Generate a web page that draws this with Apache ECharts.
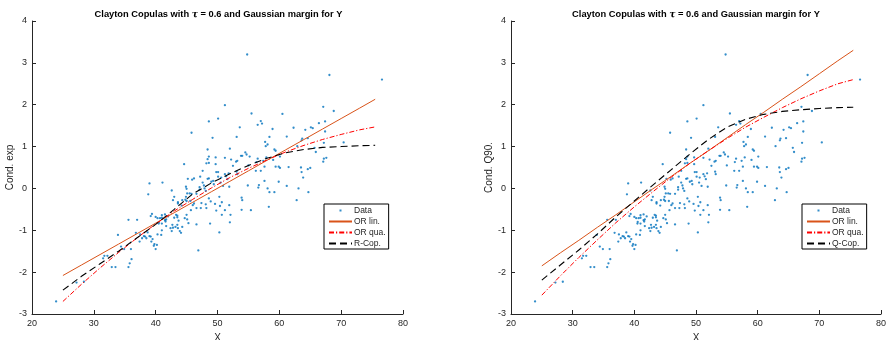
<!DOCTYPE html>
<html><head><meta charset="utf-8">
<script src="https://cdn.jsdelivr.net/npm/echarts@6/dist/echarts.min.js"></script>
<style>html,body{margin:0;padding:0;background:#fff}#c{width:886px;height:340px}</style>
</head><body><div id="c"></div>
<script>
// Scatter data (shared by both panels)
const dataX = [54.8,68.1,76.6,51.2,67.1,68.8,55.5,60.5,50.1,48.6,57.0,57.2,56.5,67.4,66.4,45.8,53.6,58.9,62.3,65.1,65.4,64.2,67.4,49.2,53.1,61.2,58.4,63.7,63.6,64.6,67.2,70.4,48.4,52.0,57.7,58.1,57.8,62.9,54.5,54.7,59.2,59.4,48.6,49.7,48.4,51.2,52.2,53.8,54.0,53.2,55.2,56.5,57.9,60.1,65.7,65.9,67.6,67.2,67.1,44.6,47.6,48.6,49.7,52.5,55.0,56.2,57.0,57.6,59.4,59.9,49.8,50.1,51.2,51.8,60.1,61.5,63.5,65.0,64.6,63.6,48.2,53.0,56.3,57.4,59.0,53.1,
45.2,45.9,46.2,48.4,48.6,49.0,49.3,49.4,50.1,50.6,42.6,45.0,45.1,45.5,45.8,46.6,47.1,47.1,47.8,47.9,48.1,43.0,42.8,43.6,43.6,44.3,44.2,44.9,44.8,45.0,45.6,46.0,46.2,46.6,47.3,47.4,48.1,48.2,48.6,49.8,50.3,51.9,53.9,54.0,53.9,55.4,50.4,54.9,56.6,56.7,57.6,58.1,58.4,59.2,58.3,59.9,61.2,63.1,64.7,62.8,63.85,51.4,51.6,51.9,50.5,50.9,47.6,47.2,44.9,39.0,38.8,41.1,53.2,
43.3,43.5,43.0,43.5,43.7,42.7,42.4,42.8,42.6,43.5,43.6,44.3,44.1,44.7,45.0,45.3,46.6,48.8,50.3,50.7,52.1,52.0,46.9,39.4,39.2,40.0,40.3,40.7,41.0,41.0,41.5,42.0,40.5,41.0,41.6,35.6,37.0,33.9,36.8,37.5,37.8,38.1,38.5,39.0,39.5,39.3,39.8,39.7,40.2,40.0,38.7,40.9,41.0,41.7,43.2,43.9,34.4,34.9,36.0,31.7,32.2,31.5,32.9,33.5,35.6,36.1,35.8,23.9,27.2,28.4,40.3,
48.9,49.6,51.2,50.7,45.7,45.1,40.55,41.5,41.7,37.4,38.3,39.2];
const dataY = [3.20,2.71,2.60,1.99,1.95,1.85,1.79,1.78,1.67,1.60,1.61,1.55,1.52,1.60,1.56,1.33,1.46,1.42,1.45,1.46,1.44,1.40,1.36,1.21,1.23,1.24,1.23,1.19,1.15,1.20,1.09,1.10,0.93,0.95,1.11,1.05,1.01,1.01,0.86,0.81,0.93,0.90,0.76,0.74,0.70,0.73,0.69,0.78,0.78,0.66,0.76,0.71,0.74,0.76,0.97,0.87,0.73,0.71,0.64,0.58,0.42,0.61,0.58,0.54,0.55,0.42,0.42,0.52,0.52,0.52,0.39,0.39,0.34,0.36,0.49,0.51,0.50,0.49,0.46,0.39,0.60,0.64,0.63,0.66,0.68,0.40,
0.23,0.21,0.24,0.23,0.24,0.16,0.18,0.10,0.28,0.26,-0.05,-0.01,-0.12,-0.12,-0.13,-0.13,0.03,-0.03,0.07,0.00,-0.06,-0.20,-0.28,-0.33,-0.36,-0.28,-0.41,-0.20,-0.27,-0.30,-0.30,-0.40,-0.36,-0.47,-0.47,-0.35,-0.38,-0.47,-0.24,-0.53,-0.20,-0.40,-0.22,-0.28,-0.51,-0.52,-0.42,0.07,0.02,0.08,0.18,0.00,-0.09,-0.09,-0.44,0.16,0.06,0.00,-0.09,-0.28,0.26,0.29,0.22,0.04,0.14,0.06,0.14,0.28,0.04,0.12,-0.14,0.14,0.34,
-0.63,-0.65,-0.70,-0.69,-0.77,-0.87,-0.95,-0.94,-1.02,-0.87,-0.95,-0.92,-1.06,-0.71,-0.63,-0.83,-0.86,-0.84,-1.05,-0.63,-0.63,-0.81,-1.48,-0.61,-0.66,-0.68,-0.71,-0.71,-0.70,-0.64,-0.62,-0.67,-0.84,-0.84,-0.79,-0.75,-0.75,-1.11,-1.06,-1.10,-1.19,-1.14,-1.19,-1.14,-1.21,-1.27,-1.33,-1.37,-1.35,-1.45,-1.05,-1.11,-1.00,-0.90,-0.92,-1.02,-1.39,-1.45,-1.45,-1.61,-1.61,-1.67,-1.88,-1.88,-1.88,-1.69,-1.79,-2.70,-2.25,-2.23,-1.10,
-0.31,-0.37,-0.52,-0.33,-0.52,-0.74,-0.80,-0.76,-0.74,-1.27,-1.15,-1.15];

// Fitted curves, sampled at fitX
const fitX     = [25,28,31,34,37,40,43,46,49,52,55,58,61,64,67,70,73,75.5];
const leftLin  = [-2.08,-1.83,-1.58,-1.33,-1.08,-0.83,-0.58,-0.33,-0.08,0.17,0.42,0.67,0.92,1.17,1.42,1.67,1.92,2.13];
const leftQua  = [-2.70,-2.29,-1.90,-1.53,-1.18,-0.85,-0.54,-0.26,0.01,0.26,0.48,0.68,0.87,1.03,1.17,1.29,1.40,1.47];
const leftCop  = [-2.43,-2.10,-1.80,-1.50,-1.18,-0.86,-0.50,-0.13,0.13,0.35,0.55,0.72,0.85,0.93,0.98,1.00,1.02,1.03];
const rightLin = [-1.85,-1.54,-1.24,-0.93,-0.63,-0.32,-0.01,0.29,0.60,0.90,1.21,1.52,1.82,2.13,2.43,2.74,3.05,3.30];
const rightQua = [-2.55,-2.09,-1.65,-1.23,-0.82,-0.44,-0.08,0.27,0.60,0.90,1.19,1.46,1.70,1.93,2.14,2.33,2.50,2.60];
const rightCop = [-2.19,-1.83,-1.47,-1.09,-0.68,-0.30,0.08,0.45,0.82,1.17,1.46,1.65,1.77,1.84,1.88,1.91,1.93,1.94];

const titleText = 'Clayton Copulas with {i|τ} = 0.6 and Gaussian margin for Y';
const yNames = ['Cond. exp', 'Cond. Q90.'];
const copNames = ['R-Cop.', 'Q-Cop.'];

const FONT = '"Liberation Sans", Arial, Helvetica, sans-serif';
const AX = '#262626';
const pts = dataX.map((x, i) => [x, dataY[i]]);
const pair = (ys) => fitX.map((x, i) => [x, ys[i]]);
const dotIcon = 'path://M0,0L0.01,0M10.5,3h2v2h-2zM23,8L23.01,8';

function xAxis(g) {
  return {
    type: 'value', gridIndex: g, min: 20, max: 80, interval: 10,
    name: 'X', nameLocation: 'middle', nameGap: 14,
    nameTextStyle: { color: AX, fontSize: 10, fontFamily: FONT },
    axisLine: { onZero: false, lineStyle: { color: AX, width: 1 } },
    axisTick: { inside: true, length: 4, lineStyle: { color: AX } },
    axisLabel: { color: AX, fontSize: 9, fontFamily: FONT, margin: 5 },
    splitLine: { show: false }
  };
}
function yAxis(g) {
  return {
    type: 'value', gridIndex: g, min: -3, max: 4, interval: 1,
    name: yNames[g], nameLocation: 'middle', nameGap: 13,
    nameTextStyle: { color: AX, fontSize: 10, fontFamily: FONT },
    axisLine: { onZero: false, lineStyle: { color: AX, width: 1 } },
    axisTick: { inside: true, length: 4, lineStyle: { color: AX } },
    axisLabel: { color: AX, fontSize: 9, fontFamily: FONT, margin: 5 },
    splitLine: { show: false }
  };
}
function lineSeries(name, g, ys, color, type, width) {
  return {
    type: 'line', name: name, xAxisIndex: g, yAxisIndex: g, data: pair(ys),
    symbol: 'none', showSymbol: false, silent: true, animation: false,
    lineStyle: { color: color, type: type, width: width }, itemStyle: { color: color }, z: 3
  };
}
function legend(g, left) {
  const hide = { opacity: 0 };
  return {
    left: left, top: 204, orient: 'vertical',
    data: [
      { name: 'Data', icon: dotIcon },
      { name: 'OR lin.', itemStyle: hide },
      { name: 'OR qua.', itemStyle: hide },
      { name: copNames[g], itemStyle: hide }
    ],
    itemWidth: 23, itemHeight: 8, itemGap: 2,
    padding: [2, 3, 1, 4],
    borderColor: '#000', borderWidth: 1, backgroundColor: '#fff',
    textStyle: { color: AX, fontSize: 8.5, lineHeight: 9, fontFamily: FONT, padding: [0, 0, 0, -3] },
    selectedMode: false
  };
}

const option = {
  animation: false,
  backgroundColor: '#fff',
  textStyle: { fontFamily: FONT },
  title: [0, 1].map(g => ({
    text: titleText, left: g === 0 ? 213.5 : 691, top: 5, textAlign: 'center',
    textStyle: { fontSize: 9.3, fontWeight: 'bold', color: '#000', fontFamily: FONT,
      rich: { i: { fontStyle: 'italic', fontWeight: 'bold', fontSize: 9.3, fontFamily: '"DejaVu Serif", serif' } } }
  })),
  grid: [
    { left: 32, right: 483, top: 21, bottom: 26, containLabel: false, outerBoundsMode: 'none' },
    { left: 511, right: 5, top: 21, bottom: 26, containLabel: false, outerBoundsMode: 'none' }
  ],
  xAxis: [xAxis(0), xAxis(1)],
  yAxis: [yAxis(0), yAxis(1)],
  legend: [legend(0, 324), legend(1, 802)],
  series: [0, 1].flatMap(g => [
    { type: 'scatter', name: 'Data', xAxisIndex: g, yAxisIndex: g, data: pts,
      symbol: 'circle', symbolSize: 2.3, itemStyle: { color: '#0072BD' }, silent: true, z: 2 },
    lineSeries('OR lin.', g, g === 0 ? leftLin : rightLin, '#D95319', 'solid', 1),
    lineSeries('OR qua.', g, g === 0 ? leftQua : rightQua, '#FF0000', [5, 2, 1.2, 2], 1),
    lineSeries(copNames[g], g, g === 0 ? leftCop : rightCop, '#000000', [7, 4], 1.1)
  ])
};
const chart = echarts.init(document.getElementById('c'), null, { renderer: 'canvas' });
chart.setOption(option);
</script></body></html>
